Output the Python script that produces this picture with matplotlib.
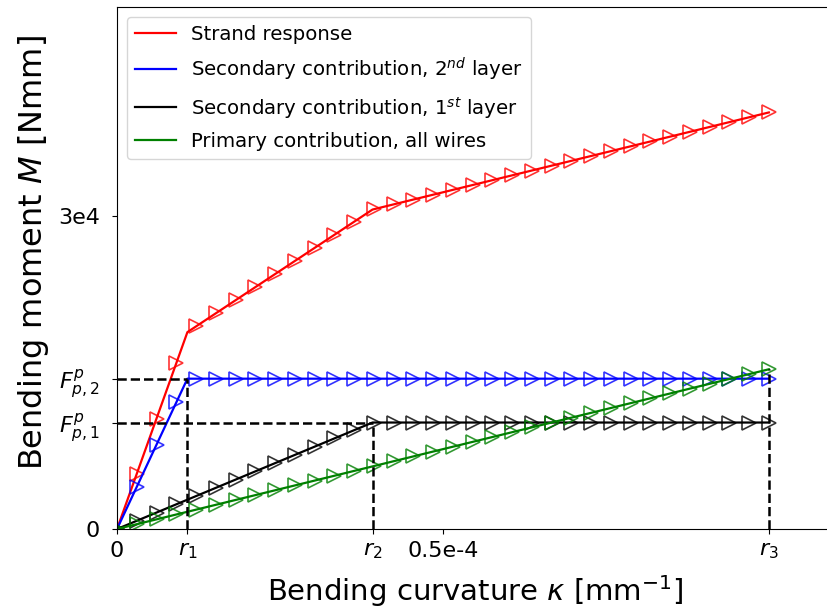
import matplotlib
matplotlib.use("Agg")
import matplotlib.pyplot as plt

# characteristic curvatures [1/mm] and plateau moments [Nmm]
r1 = 1.08e-5
r2 = 3.92e-5
r3 = 1.0e-4
F_p1 = 10200
F_p2 = 14400
M_primary_end = 15300

# piecewise-linear model curves (breakpoints)
kappa_blue = [0, r1, r3]
M_blue = [0, F_p2, F_p2]
kappa_black = [0, r2, r3]
M_black = [0, F_p1, F_p1]
kappa_green = [0, r3]
M_green = [0, M_primary_end]
kappa_red = [0, r1, r2, r3]
M_red = [0, 18860, 30600, 39900]

# sampled points (markers), curvature in 1e-6 /mm
kappa_pts = [0, 3.03, 6.06, 9.09, 12.12, 15.15, 18.18, 21.21, 24.24, 27.27,
             30.30, 33.33, 36.36, 39.39, 42.42, 45.45, 48.48, 51.52, 54.55,
             57.58, 60.61, 63.64, 66.67, 69.70, 72.73, 75.76, 78.79, 81.82,
             84.85, 87.88, 90.91, 93.94, 96.97, 100.0]
kappa_pts = [k * 1e-6 for k in kappa_pts]

M_blue_pts = [0, 4040, 8080, 12120] + [14400] * 30
M_black_pts = [0, 788, 1577, 2365, 3154, 3942, 4730, 5519, 6307, 7096,
               7884, 8673, 9461] + [10200] * 21
M_green_pts = [0, 464, 927, 1391, 1854, 2318, 2782, 3245, 3709, 4172,
               4636, 5099, 5563, 6027, 6490, 6954, 7417, 7883, 8346, 8810,
               9273, 9737, 10201, 10664, 11128, 11591, 12055, 12518, 12982,
               13446, 13909, 14373, 14836, 15300]
M_red_pts = [0, 5292, 10584, 15876, 19408, 20660, 21912, 23164, 24416,
             25668, 26920, 28172, 29424, 30627, 31090, 31554, 32017, 32483,
             32946, 33410, 33873, 34337, 34801, 35264, 35728, 36191, 36655,
             37118, 37582, 38046, 38509, 38973, 39436, 39900]

labels = [
    "Strand response",
    "Secondary contribution, $2^{nd}$ layer",
    "Secondary contribution, $1^{st}$ layer",
    "Primary contribution, all wires",
]

fig = plt.figure(figsize=(8.27, 6.14), dpi=100)
ax = fig.add_axes([0.1415, 0.1384, 0.867, 0.8502])

series = [
    (kappa_red, M_red, M_red_pts, "red"),
    (kappa_blue, M_blue, M_blue_pts, "blue"),
    (kappa_black, M_black, M_black_pts, "black"),
    (kappa_green, M_green, M_green_pts, "green"),
]
for (kx, my, mp, c), lab in zip(series, labels):
    ax.plot(kx, my, "-", color=c, lw=1.6, label=lab)
    ax.plot(kappa_pts, mp, ">", color=c, ms=10, mfc="none", mew=1.2,
            alpha=0.8)

# guide lines
dash = dict(color="black", ls="--", lw=1.8)
ax.plot([0, r1], [F_p2, F_p2], **dash)
ax.plot([r1, r1], [0, F_p2], **dash)
ax.plot([0, r2], [F_p1, F_p1], **dash)
ax.plot([r2, r2], [0, F_p1], **dash)
ax.plot([r3, r3], [0, M_primary_end], **dash)

ax.set_xlim(0, 1.1e-4)
ax.set_ylim(0, 5.0e4)
ax.set_xticks([0, r1, r2, 0.5e-4, r3])
ax.set_xticklabels(["0", "$r_1$", "$r_2$", "0.5e-4", "$r_3$"])
ax.set_yticks([0, F_p1, F_p2, 3e4])
ax.set_yticklabels(["0", "$F^p_{p,1}$", "$F^p_{p,2}$", "3e4"])
ax.tick_params(labelsize=16)
ax.tick_params(axis="y", pad=9)
ax.tick_params(axis="x", pad=5)
ax.set_xlabel(r"Bending curvature $\kappa$ [mm$^{-1}$]", fontsize=21,
              labelpad=9)
ax.set_ylabel(r"Bending moment $M$ [Nmm]", fontsize=23)
ax.yaxis.set_label_coords(-0.092, 0.53)
ax.legend(loc="upper left", fontsize=14.2, labelspacing=0.6,
          handlelength=2.1, handletextpad=0.75)

plt.savefig("out.png", dpi=100)
